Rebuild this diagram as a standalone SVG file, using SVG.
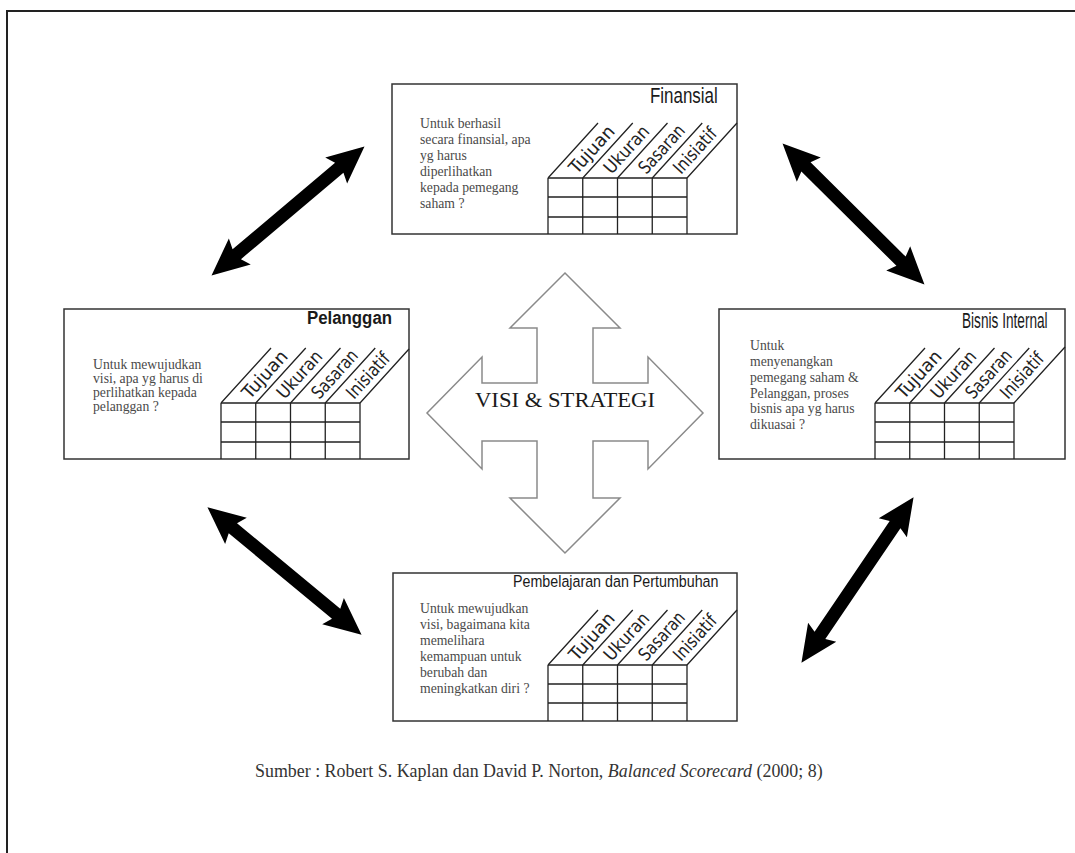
<svg xmlns="http://www.w3.org/2000/svg" width="1075" height="853" viewBox="0 0 1075 853">
<style>
.box{fill:#fff;stroke:#333;stroke-width:1.5}
.grid{stroke:#222;stroke-width:1.3;fill:none}
.title{font-family:"Liberation Sans",sans-serif;fill:#1a1a1a}
.hdr{font-family:"DejaVu Sans","Liberation Sans",sans-serif;font-size:18px;fill:#222}
.body{font-family:"Liberation Serif",serif;font-size:13.7px;fill:#4a4a4a}
.cap{font-family:"Liberation Serif",serif;font-size:17.9px;fill:#333}
.center{fill:#fff;stroke:#8a8a8a;stroke-width:1.5}
.vs{font-family:"Liberation Serif",serif;font-size:22px;fill:#1a1a1a}
</style>
<defs>
<path id="dbl" d="M100,0 L63,-17 L67,-6.5 L-67,-6.5 L-63,-17 L-100,0 L-63,17 L-67,6.5 L67,6.5 L63,17 Z" fill="#000"/>
</defs>
<rect width="1075" height="853" fill="#fff"/>
<path d="M7,853 V11 H1075" fill="none" stroke="#222" stroke-width="2"/>

<g id="connectors">
<use href="#dbl" transform="translate(288,211) rotate(-40.1)"/>
<use href="#dbl" transform="translate(853.5,214) rotate(44.8)"/>
<use href="#dbl" transform="translate(284.5,571) rotate(39.6)"/>
<use href="#dbl" transform="translate(857.5,580) rotate(-55.9)"/>
</g>

<g id="visi">
<polygon class="center" points="565,273 620,328 593,328 593,383 648,383 648,357 703,413 648,469 648,441 593,441 593,498 620,498 565,553 510,498 537,498 537,441 482,441 482,469 427,413 482,357 482,383 537,383 537,328 510,328"/>
<text class="vs" x="475" y="407" textLength="180" lengthAdjust="spacingAndGlyphs">VISI &amp; STRATEGI</text>
</g>

<g id="finansial">
<rect class="box" x="392" y="84" width="345" height="150"/>
<text class="title" font-size="22" transform="translate(650,103) scale(0.77,1)">Finansial</text>
<text class="body"><tspan x="420" y="128">Untuk berhasil</tspan><tspan x="420" y="144">secara finansial, apa</tspan><tspan x="420" y="160">yg harus</tspan><tspan x="420" y="176">diperlihatkan</tspan><tspan x="420" y="192">kepada pemegang</tspan><tspan x="420" y="208">saham ?</tspan></text>
<g class="grid">
<path d="M548,178 H687 M548,197 H687 M548,217 H687 M548,178 V234 M582.75,178 V234 M617.5,178 V234 M652.25,178 V234 M687,178 V234"/>
<path d="M548,178 l50,-55 M582.75,178 l50,-55 M617.5,178 l50,-55 M652.25,178 l50,-55 M687,178 l50,-55"/>
</g>
<text class="hdr" transform="translate(576.75,175) rotate(-47.7)" textLength="58" lengthAdjust="spacingAndGlyphs">Tujuan</text>
<text class="hdr" transform="translate(611.5,175) rotate(-47.7)" textLength="58" lengthAdjust="spacingAndGlyphs">Ukuran</text>
<text class="hdr" transform="translate(646.25,175) rotate(-47.7)" textLength="59" lengthAdjust="spacingAndGlyphs">Sasaran</text>
<text class="hdr" transform="translate(681,175) rotate(-47.7)" textLength="55" lengthAdjust="spacingAndGlyphs">Inisiatif</text>
</g>

<g id="pelanggan">
<rect class="box" x="64" y="309" width="345" height="150"/>
<text class="title" font-size="19" font-weight="bold" transform="translate(307,324) scale(0.885,1)">Pelanggan</text>
<text class="body"><tspan x="93" y="369">Untuk mewujudkan</tspan><tspan x="93" y="383">visi, apa yg harus di</tspan><tspan x="93" y="397">perlihatkan kepada</tspan><tspan x="93" y="411">pelanggan ?</tspan></text>
<g class="grid">
<path d="M221,403 H360 M221,422 H360 M221,442 H360 M221,403 V459 M255.75,403 V459 M290.5,403 V459 M325.25,403 V459 M360,403 V459"/>
<path d="M221,403 l50,-55 M255.75,403 l50,-55 M290.5,403 l50,-55 M325.25,403 l50,-55 M360,403 l49,-54"/>
</g>
<text class="hdr" transform="translate(249.75,400) rotate(-47.7)" textLength="58" lengthAdjust="spacingAndGlyphs">Tujuan</text>
<text class="hdr" transform="translate(284.5,400) rotate(-47.7)" textLength="58" lengthAdjust="spacingAndGlyphs">Ukuran</text>
<text class="hdr" transform="translate(319.25,400) rotate(-47.7)" textLength="59" lengthAdjust="spacingAndGlyphs">Sasaran</text>
<text class="hdr" transform="translate(354,400) rotate(-47.7)" textLength="55" lengthAdjust="spacingAndGlyphs">Inisiatif</text>
</g>

<g id="bisnis-internal">
<rect class="box" x="719" y="309" width="346" height="150"/>
<text class="title" font-size="22" transform="translate(962,328) scale(0.62,1)">Bisnis Internal</text>
<text class="body"><tspan x="750" y="350">Untuk</tspan><tspan x="750" y="366">menyenangkan</tspan><tspan x="750" y="382">pemegang saham &amp;</tspan><tspan x="750" y="398">Pelanggan, proses</tspan><tspan x="750" y="413">bisnis apa yg harus</tspan><tspan x="750" y="429">dikuasai ?</tspan></text>
<g class="grid">
<path d="M875,403 H1014 M875,422 H1014 M875,442 H1014 M875,403 V459 M909.75,403 V459 M944.5,403 V459 M979.25,403 V459 M1014,403 V459"/>
<path d="M875,403 l50,-55 M909.75,403 l50,-55 M944.5,403 l50,-55 M979.25,403 l50,-55 M1014,403 l51,-56"/>
</g>
<text class="hdr" transform="translate(903.75,400) rotate(-47.7)" textLength="58" lengthAdjust="spacingAndGlyphs">Tujuan</text>
<text class="hdr" transform="translate(938.5,400) rotate(-47.7)" textLength="58" lengthAdjust="spacingAndGlyphs">Ukuran</text>
<text class="hdr" transform="translate(973.25,400) rotate(-47.7)" textLength="59" lengthAdjust="spacingAndGlyphs">Sasaran</text>
<text class="hdr" transform="translate(1008,400) rotate(-47.7)" textLength="55" lengthAdjust="spacingAndGlyphs">Inisiatif</text>
</g>

<g id="pembelajaran">
<rect class="box" x="393" y="573" width="344" height="148"/>
<text class="title" font-size="17" transform="translate(513,587) scale(0.84,1)">Pembelajaran dan Pertumbuhan</text>
<text class="body"><tspan x="420" y="613">Untuk mewujudkan</tspan><tspan x="420" y="629">visi, bagaimana kita</tspan><tspan x="420" y="645">memelihara</tspan><tspan x="420" y="661">kemampuan untuk</tspan><tspan x="420" y="677">berubah dan</tspan><tspan x="420" y="693">meningkatkan diri ?</tspan></text>
<g class="grid">
<path d="M548,665 H687 M548,684 H687 M548,703 H687 M548,665 V721 M582.75,665 V721 M617.5,665 V721 M652.25,665 V721 M687,665 V721"/>
<path d="M548,665 l50,-55 M582.75,665 l50,-55 M617.5,665 l50,-55 M652.25,665 l50,-55 M687,665 l50,-55"/>
</g>
<text class="hdr" transform="translate(576.75,662) rotate(-47.7)" textLength="58" lengthAdjust="spacingAndGlyphs">Tujuan</text>
<text class="hdr" transform="translate(611.5,662) rotate(-47.7)" textLength="58" lengthAdjust="spacingAndGlyphs">Ukuran</text>
<text class="hdr" transform="translate(646.25,662) rotate(-47.7)" textLength="59" lengthAdjust="spacingAndGlyphs">Sasaran</text>
<text class="hdr" transform="translate(681,662) rotate(-47.7)" textLength="55" lengthAdjust="spacingAndGlyphs">Inisiatif</text>
</g>

<g id="caption">
<text class="cap" x="255" y="777">Sumber : Robert S. Kaplan dan David P. Norton, <tspan font-style="italic">Balanced Scorecard</tspan> (2000; 8)</text>
</g>
</svg>
